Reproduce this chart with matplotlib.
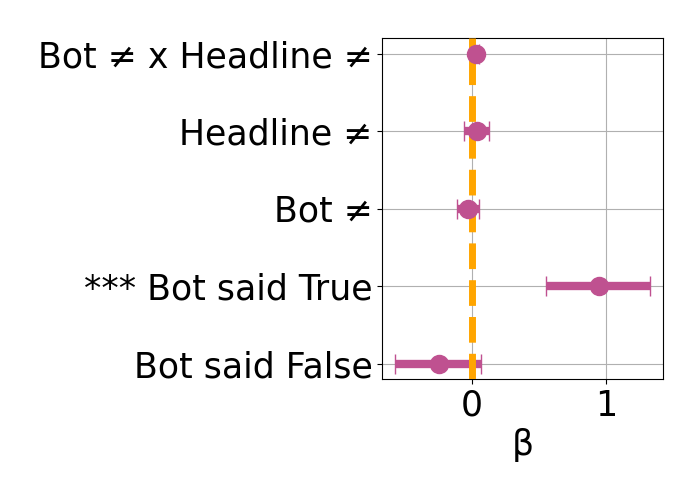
import numpy as np
import matplotlib
matplotlib.use("Agg")
import matplotlib.pyplot as plt

# coefficients, bottom row first
labels = ["Bot said False", "*** Bot said True", "Bot \u2260", "Headline \u2260",
          "Bot \u2260 x Headline \u2260"]
beta = [-0.25, 0.943, -0.027, 0.04, 0.027]
ci_low = [-0.575, 0.552, -0.114, -0.06, 0.005]
ci_high = [0.067, 1.328, 0.055, 0.13, 0.05]

beta = np.array(beta)
err = np.array([beta - np.array(ci_low), np.array(ci_high) - beta])
pos = np.arange(len(labels))

fig = plt.figure(figsize=(7, 5), dpi=100)
ax = fig.add_axes([0.546, 0.242, 0.401, 0.682])

col = "#BF5190"
ax.errorbar(beta, pos, xerr=err, fmt="none", ecolor=col, elinewidth=6,
            capsize=7, capthick=1, zorder=2)
ax.axvline(0, color="orange", linestyle="--", linewidth=5, zorder=3)
ax.plot(beta, pos, "o", color=col, markersize=13, zorder=4)

ax.set_yticks(pos)
ax.set_yticklabels(labels, fontsize=25)
ax.tick_params(axis="x", labelsize=25)
ax.set_xlabel("\u03b2", fontsize=25)
ax.grid(True)
ax.set_axisbelow(True)

fig.savefig("out.png", dpi=100)
